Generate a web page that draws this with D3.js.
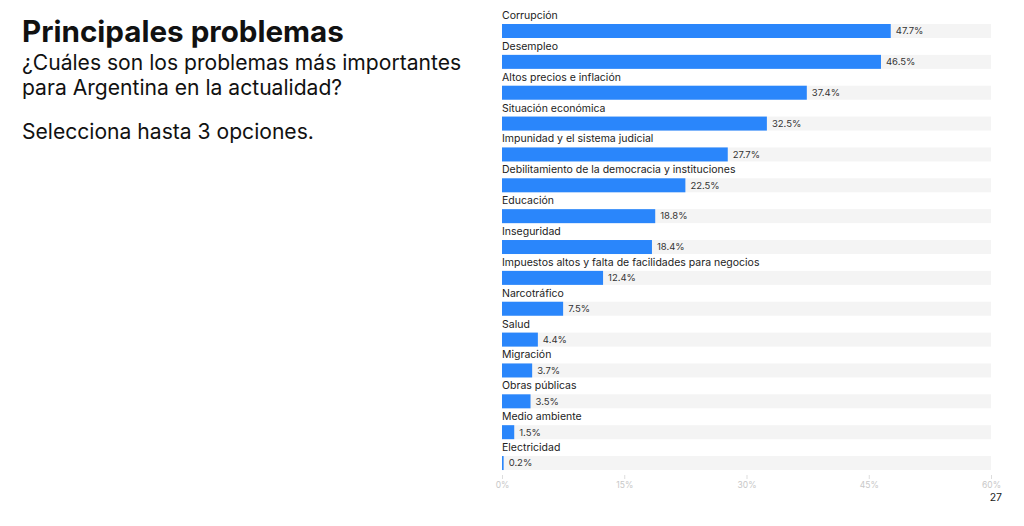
<!DOCTYPE html>
<html><head><meta charset="utf-8">
<script src="https://cdn.jsdelivr.net/npm/d3@7"></script>
<style>
html,body{margin:0;padding:0;background:#fff;}
svg{display:block;}
text{font-family:Inter,"Noto Sans",sans-serif;}
</style></head>
<body>
<svg id="chart" width="1024" height="526"></svg>
<script>
const categories = ["Corrupción","Desempleo","Altos precios e inflación","Situación económica","Impunidad y el sistema judicial","Debilitamiento de la democracia y instituciones","Educación","Inseguridad","Impuestos altos y falta de facilidades para negocios","Narcotráfico","Salud","Migración","Obras públicas","Medio ambiente","Electricidad"];
const values = [47.7,46.5,37.4,32.5,27.7,22.5,18.8,18.4,12.4,7.5,4.4,3.7,3.5,1.5,0.2];
const tickValues = [0,15,30,45,60];
const title = "Principales problemas";
const subtitleLines = ["¿Cuáles son los problemas más importantes","para Argentina en la actualidad?"];
const note = "Selecciona hasta 3 opciones.";
const pageNumber = "27";

const svg = d3.select("#chart");
const x = d3.scaleLinear().domain([0,60]).range([502,991]);
const y = d3.scaleBand().domain(categories).range([24, 24+15*30.86]).paddingInner(0).paddingOuter(0);
const barH = 14;

svg.append("text").attr("x",22).attr("y",42).attr("font-size",29.6).attr("font-weight",700).attr("fill","#111").text(title);
subtitleLines.forEach((t,i)=>{
  svg.append("text").attr("x",22).attr("y",70+i*24.5).attr("font-size",21.1).attr("fill","#111").text(t);
});
svg.append("text").attr("x",22).attr("y",139).attr("font-size",21.1).attr("fill","#111").text(note);

const g = svg.append("g");
const rows = g.selectAll("g.row").data(categories).join("g").attr("class","row");
rows.append("rect").attr("x",x(0)).attr("width",x(60)-x(0)).attr("y",d=>y(d)).attr("height",barH).attr("fill","#f4f4f4");
rows.append("rect").attr("x",x(0)).attr("width",(d,i)=>Math.max(1.5,x(values[i])-x(0))).attr("y",d=>y(d)).attr("height",barH).attr("fill","#2a86fb");
rows.append("text").attr("x",x(0)).attr("y",d=>y(d)-5).attr("font-size",10.5).attr("fill","#222").text(d=>d);
rows.append("text").attr("x",(d,i)=>x(values[i])+5).attr("y",d=>y(d)+barH/2).attr("dy","0.35em").attr("font-size",9.5).attr("fill","#333").text((d,i)=>values[i].toFixed(1)+"%");

const axis = d3.axisBottom(x).tickValues(tickValues).tickFormat(d=>d+"%").tickSize(4).tickPadding(3);
const ag = svg.append("g").attr("transform","translate(0,475)").call(axis);
ag.select(".domain").remove();
ag.selectAll(".tick line").attr("stroke","#ddd");
ag.selectAll(".tick text").attr("fill","#c8c8c8").attr("font-size",8.5).attr("font-family","Inter,sans-serif");

svg.append("text").attr("x",1002).attr("y",501).attr("text-anchor","end").attr("font-size",10.5).attr("fill","#222").text(pageNumber);
</script>
</body></html>
